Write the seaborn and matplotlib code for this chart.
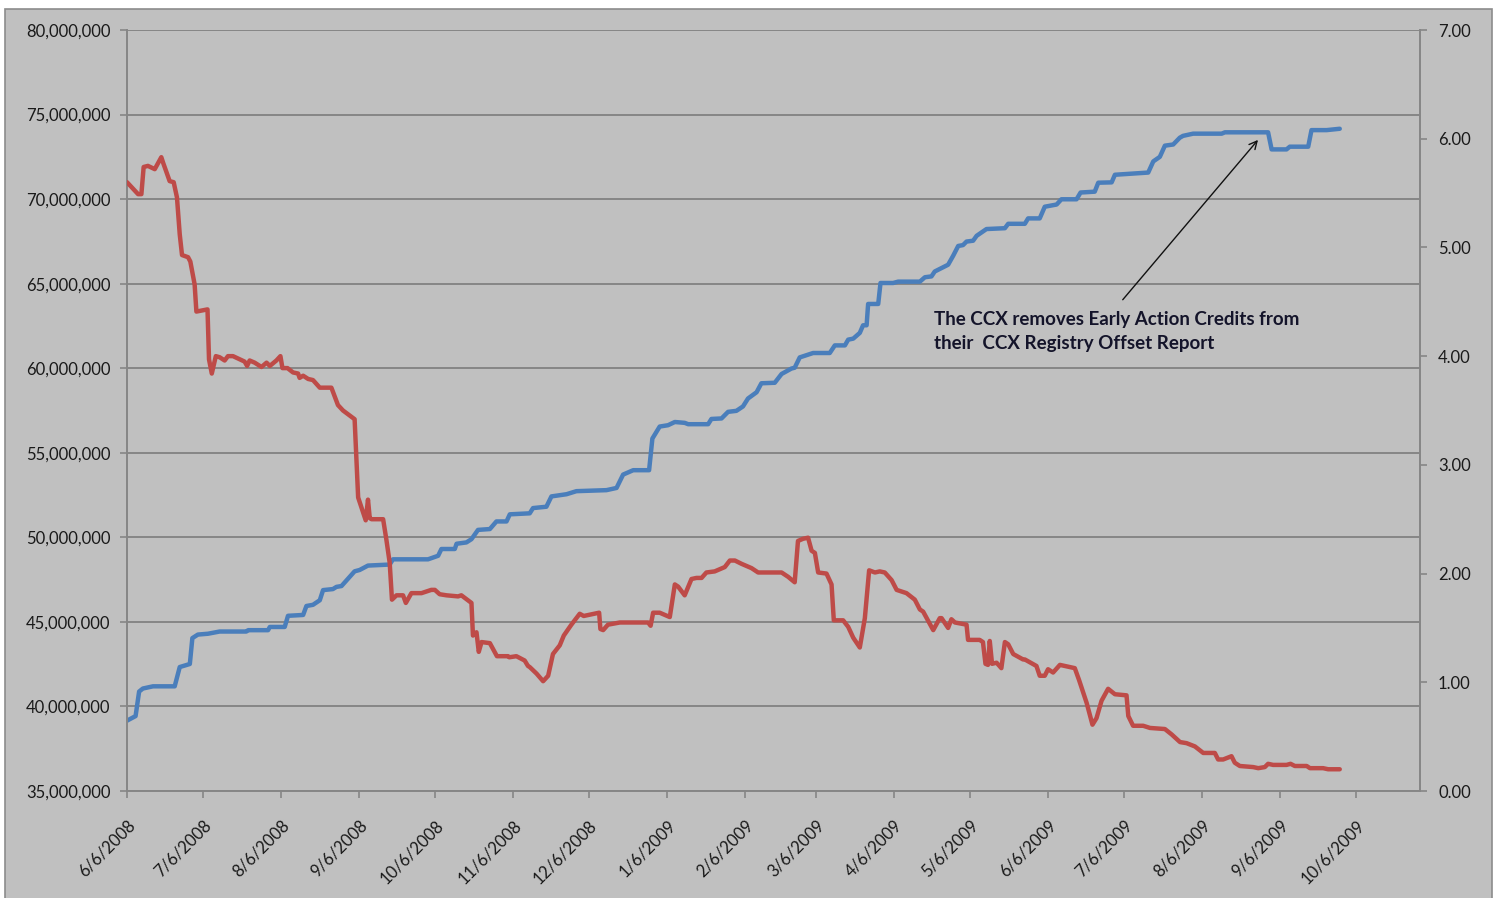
#!/usr/bin/env python3

# Import libraries
import pandas as pd
import matplotlib
matplotlib.use("Agg")
import matplotlib.pyplot as plt
import matplotlib.ticker as mticker
from matplotlib.patches import Rectangle
import seaborn as sns

# Start of the series, every x value below is "days after" this date
START = pd.Timestamp("2008-06-06")
END = START + pd.Timedelta(days=512.4)

# Blue series (left axis): offsets in the CCX registry, millions
registry_days = [
    0, 3.4, 4.8, 6.3, 10.3, 18.9, 20.9, 24.9, 25.9, 28.1, 32.1, 36.7, 47.3, 48.0,
    55.9, 56.6, 62.5, 63.8, 69.8, 71.1, 73.7, 76.4, 77.7, 81.6, 83.0, 85.0, 90.2,
    92.2, 95.5, 104.1, 105.4, 119.3, 123.3, 124.6, 129.9, 130.6, 134.5, 136.5,
    139.1, 143.8, 146.4, 150.4, 151.7, 159.6, 160.9, 166.2, 168.2, 174.2, 178.1,
    190.0, 194.0, 196.6, 200.6, 206.9, 208.2, 211.1, 214.4, 217.1, 221.0, 222.4,
    230.3, 231.6, 235.6, 238.2, 241.5, 244.1, 246.1, 249.5, 251.4, 256.7, 259.4,
    263.3, 264.6, 266.6, 271.9, 278.5, 280.5, 284.5, 285.8, 287.8, 290.4, 291.7,
    293.1, 293.7, 297.7, 298.6, 303.6, 305.6, 314.2, 316.2, 318.8, 320.1, 325.4,
    327.4, 329.4, 331.3, 332.7, 335.3, 336.7, 340.6, 347.9, 349.2, 355.8, 357.1,
    361.7, 363.7, 368.4, 370.3, 376.3, 377.9, 383.5, 384.9, 390.2, 391.5, 397.4,
    404.7, 406.7, 409.3, 411.3, 414.6, 417.2, 418.5, 422.5, 433.8, 435.1, 452.2,
    453.6, 459.5, 460.8, 468.1, 469.4, 475.4, 480.6,
]
registry_millions = [
    39.16, 39.43, 40.88, 41.06, 41.19, 41.19, 42.33, 42.51, 44.04, 44.25, 44.30,
    44.43, 44.43, 44.51, 44.51, 44.70, 44.70, 45.36, 45.41, 45.94, 46.01, 46.28,
    46.88, 46.94, 47.07, 47.12, 47.99, 48.07, 48.33, 48.39, 48.70, 48.70, 48.91,
    49.31, 49.31, 49.62, 49.70, 49.89, 50.44, 50.49, 50.94, 50.94, 51.36, 51.42,
    51.73, 51.81, 52.42, 52.55, 52.73, 52.79, 52.92, 53.71, 53.97, 53.97, 55.84,
    56.55, 56.63, 56.82, 56.77, 56.69, 56.69, 57.00, 57.03, 57.42, 57.48, 57.74,
    58.21, 58.58, 59.11, 59.14, 59.66, 59.98, 60.03, 60.64, 60.90, 60.90, 61.35,
    61.35, 61.69, 61.75, 62.09, 62.54, 62.54, 63.80, 63.80, 65.04, 65.04, 65.12,
    65.12, 65.38, 65.43, 65.72, 66.12, 66.65, 67.23, 67.28, 67.49, 67.54, 67.83,
    68.23, 68.28, 68.54, 68.54, 68.86, 68.86, 69.55, 69.68, 69.99, 69.99, 70.39,
    70.44, 70.97, 70.99, 71.44, 71.50, 71.57, 72.23, 72.50, 73.16, 73.23, 73.63,
    73.74, 73.87, 73.87, 73.95, 73.95, 72.94, 72.94, 73.10, 73.10, 74.08, 74.08,
    74.16,
]

# Red series (right axis): CFI price
price_days = [
    0, 4.4, 5.7, 6.6, 8.3, 11.0, 13.6, 14.3, 16.9, 18.5, 19.8, 20.9, 21.8, 24.2,
    25.1, 26.8, 27.5, 31.9, 32.5, 33.6, 35.2, 36.7, 38.7, 40.0, 42.0, 44.7, 46.6,
    47.6, 48.6, 50.6, 53.3, 55.3, 56.6, 59.2, 60.8, 61.6, 63.6, 65.8, 67.8, 68.4,
    69.8, 71.8, 73.7, 76.4, 81.0, 83.6, 85.6, 90.2, 91.6, 94.6, 95.5, 96.2, 96.9,
    101.5, 102.8, 104.1, 105.0, 106.8, 109.4, 110.5, 112.7, 116.7, 120.6, 122.0,
    123.9, 126.6, 131.2, 132.5, 136.5, 137.1, 138.5, 139.4, 140.5, 143.8, 146.6,
    151.0, 151.5, 154.3, 157.6, 158.9, 159.6, 162.3, 164.9, 166.9, 168.8, 171.5,
    173.1, 176.1, 179.4, 181.0, 187.1, 187.6, 188.7, 190.6, 195.3, 206.5, 207.5,
    208.5, 211.1, 215.1, 217.1, 218.4, 221.0, 223.7, 225.7, 227.7, 229.6, 232.9,
    236.9, 238.9, 240.9, 243.5, 247.5, 250.1, 259.4, 262.0, 264.6, 265.9, 267.9,
    269.9, 271.3, 272.6, 273.9, 277.2, 279.2, 280.1, 283.8, 285.8, 287.8, 290.4,
    292.4, 294.1, 296.4, 298.3, 300.3, 303.0, 305.0, 308.9, 312.2, 314.2, 315.5,
    319.5, 322.1, 322.8, 325.4, 326.7, 328.1, 332.7, 333.3, 337.9, 339.2, 340.2,
    341.2, 341.9, 342.8, 344.6, 346.5, 347.9, 349.2, 351.2, 355.1, 355.8, 360.4,
    361.7, 363.7, 365.0, 367.0, 369.7, 375.6, 377.3, 380.3, 382.6, 384.2, 386.2,
    388.8, 391.5, 396.1, 396.8, 398.7, 402.7, 405.4, 411.3, 414.0, 417.3, 419.9,
    423.2, 426.5, 431.1, 432.4, 434.4, 437.7, 439.0, 441.0, 446.3, 448.3, 450.9,
    452.2, 454.2, 459.5, 461.1, 462.8, 467.5, 468.8, 474.0, 476.0, 480.6,
]
price_values = [
    5.60, 5.49, 5.49, 5.74, 5.75, 5.72, 5.83, 5.78, 5.61, 5.60, 5.46, 5.12, 4.93,
    4.91, 4.87, 4.66, 4.41, 4.43, 3.97, 3.84, 4.00, 3.99, 3.96, 4.00, 4.00, 3.97,
    3.95, 3.91, 3.96, 3.94, 3.90, 3.94, 3.91, 3.96, 4.00, 3.89, 3.89, 3.85, 3.84,
    3.80, 3.82, 3.79, 3.78, 3.71, 3.71, 3.55, 3.50, 3.42, 2.70, 2.49, 2.68, 2.51,
    2.50, 2.50, 2.31, 2.10, 1.76, 1.80, 1.80, 1.73, 1.82, 1.82, 1.85, 1.85, 1.81,
    1.80, 1.79, 1.80, 1.73, 1.43, 1.46, 1.28, 1.37, 1.36, 1.24, 1.24, 1.23, 1.24,
    1.20, 1.15, 1.14, 1.08, 1.01, 1.06, 1.26, 1.34, 1.43, 1.53, 1.63, 1.61, 1.64,
    1.49, 1.48, 1.53, 1.55, 1.55, 1.52, 1.64, 1.64, 1.60, 1.90, 1.88, 1.80, 1.95,
    1.96, 1.96, 2.01, 2.02, 2.06, 2.12, 2.12, 2.09, 2.05, 2.01, 2.01, 1.97, 1.92,
    2.30, 2.32, 2.33, 2.21, 2.19, 2.01, 2.00, 1.90, 1.57, 1.57, 1.51, 1.41, 1.32,
    1.59, 2.03, 2.01, 2.02, 2.01, 1.94, 1.85, 1.82, 1.76, 1.67, 1.65, 1.48, 1.59,
    1.59, 1.50, 1.58, 1.55, 1.53, 1.39, 1.39, 1.37, 1.17, 1.16, 1.38, 1.17, 1.18,
    1.13, 1.37, 1.35, 1.26, 1.21, 1.21, 1.15, 1.06, 1.06, 1.12, 1.09, 1.16, 1.13,
    1.02, 0.81, 0.61, 0.67, 0.83, 0.94, 0.89, 0.88, 0.69, 0.60, 0.60, 0.58, 0.57,
    0.52, 0.45, 0.44, 0.41, 0.35, 0.35, 0.29, 0.29, 0.32, 0.26, 0.23, 0.22, 0.21,
    0.22, 0.25, 0.24, 0.24, 0.25, 0.23, 0.23, 0.21, 0.21, 0.20, 0.20,
]

tick_labels = [
    "6/6/2008", "7/6/2008", "8/6/2008", "9/6/2008", "10/6/2008", "11/6/2008",
    "12/6/2008", "1/6/2009", "2/6/2009", "3/6/2009", "4/6/2009", "5/6/2009",
    "6/6/2009", "7/6/2009", "8/6/2009", "9/6/2009", "10/6/2009",
]

note = "The CCX removes Early Action Credits from\ntheir  CCX Registry Offset Report"

BLUE = "#4a7ebb"
RED = "#be4b48"
GRID = "#868686"
BG = "#c0c0c0"
TXT = "#1a1a1a"


def build_frames():
    registry = pd.DataFrame({
        "date": START + pd.to_timedelta(registry_days, unit="D"),
        "offsets": [v * 1e6 for v in registry_millions],
    })
    price = pd.DataFrame({
        "date": START + pd.to_timedelta(price_days, unit="D"),
        "price": price_values,
    })
    return registry, price


def plot(registry, price):
    sns.set_style("white")
    plt.rcParams["font.family"] = ["Lato", "DejaVu Sans"]

    fig = plt.figure(figsize=(14.97, 8.98), dpi=100)
    fig.patch.set_facecolor("white")
    # grey chart frame, like the Excel chart area
    fig.patches.append(Rectangle((5 / 1497, -0.01), 1487 / 1497, 889 / 898 + 0.01,
                                 transform=fig.transFigure, facecolor=BG,
                                 edgecolor="#8c8c8c", lw=1.2, zorder=-10))

    ax = fig.add_axes([127 / 1497, 1 - 791 / 898, 1293 / 1497, 761 / 898])
    ax.set_facecolor("none")
    ax2 = ax.twinx()
    ax2.set_facecolor("none")

    sns.lineplot(data=registry, x="date", y="offsets", ax=ax, color=BLUE,
                 linewidth=3.2, solid_joinstyle="round", solid_capstyle="round")
    sns.lineplot(data=price, x="date", y="price", ax=ax2, color=RED,
                 linewidth=3.2, solid_joinstyle="round", solid_capstyle="round")

    # Left axis
    ax.set_ylim(35e6, 80e6)
    ax.set_yticks([35e6 + 5e6 * i for i in range(10)])
    ax.yaxis.set_major_formatter(mticker.FuncFormatter(lambda v, p: "{:,.0f}".format(v)))
    ax.grid(axis="y", color=GRID, lw=1.4)
    ax.set_axisbelow(True)
    ax.set_xlabel("")
    ax.set_ylabel("")

    # Right axis
    ax2.set_ylim(0, 7)
    ax2.set_yticks(range(8))
    ax2.yaxis.set_major_formatter(mticker.FormatStrFormatter("%.2f"))
    ax2.set_ylabel("")
    ax2.grid(False)

    # Date axis
    ticks = pd.to_datetime(tick_labels, format="%m/%d/%Y")
    ax.set_xlim(START, END)
    ax.set_xticks(ticks)
    ax.set_xticklabels(tick_labels, rotation=45, ha="right", rotation_mode="anchor")

    for spine in ["left", "bottom"]:
        ax.spines[spine].set_color(GRID)
        ax.spines[spine].set_linewidth(1.4)
    ax.spines["top"].set_visible(False)
    ax.spines["right"].set_visible(False)
    for spine in ["left", "bottom", "top"]:
        ax2.spines[spine].set_visible(False)
    ax2.spines["right"].set_color(GRID)
    ax2.spines["right"].set_linewidth(1.4)

    ax.tick_params(axis="y", direction="out", length=5, width=1.2, color=GRID,
                   labelsize=12, labelcolor=TXT, pad=7, left=True)
    ax.tick_params(axis="x", direction="out", length=5, width=1.2, color=GRID,
                   labelsize=12, labelcolor=TXT, pad=14, bottom=True)
    ax2.tick_params(axis="y", direction="out", length=5, width=1.2, color=GRID,
                    labelsize=12, labelcolor=TXT, pad=8, right=True)

    # Annotation arrow and note
    ax.annotate("", xy=(START + pd.Timedelta(days=448.2), 73.5e6),
                xytext=(START + pd.Timedelta(days=394.6), 64.05e6),
                arrowprops=dict(arrowstyle="->", color="#111111", lw=1.0,
                                mutation_scale=14, shrinkA=0, shrinkB=0))
    ax.text(START + pd.Timedelta(days=319.7), 63.4e6, note, ha="left", va="top",
            fontsize=13.5, fontweight="bold", color="#14142a", linespacing=1.5)

    return fig


def main():
    registry, price = build_frames()
    fig = plot(registry, price)
    fig.savefig("out.png", dpi=100)


if __name__ == "__main__":
    main()
